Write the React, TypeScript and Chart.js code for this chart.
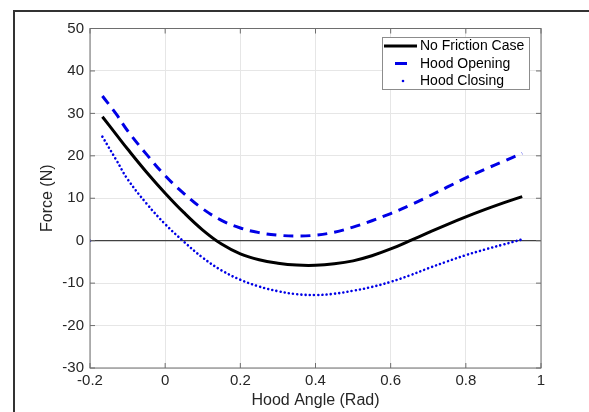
import { useEffect, useRef } from "react";
import { Chart, registerables } from "chart.js";

Chart.register(...registerables);

// ---- data ----
const hoodAngle = [
  -0.167, -0.13, -0.1, -0.05, 0, 0.05, 0.1, 0.15, 0.2, 0.25, 0.3, 0.35, 0.4,
  0.45, 0.5, 0.55, 0.6, 0.65, 0.7, 0.75, 0.8, 0.85, 0.9, 0.95,
];
const noFrictionForce = [
  29.2, 25.0, 21.6, 16.2, 11.2, 6.6, 2.5, -0.8, -3.1, -4.5, -5.3, -5.75, -5.8,
  -5.45, -4.75, -3.55, -1.95, -0.05, 1.9, 3.8, 5.6, 7.3, 8.9, 10.4,
];
const hoodOpeningForce = [
  34.1, 29.8, 25.9, 20.4, 15.3, 11.1, 7.5, 4.8, 3.0, 1.9, 1.3, 1.1, 1.3, 2.0,
  3.2, 4.7, 6.4, 8.3, 10.4, 12.6, 14.8, 16.8, 18.7, 20.6,
];
const hoodClosingForce = [
  24.5, 19.0, 14.5, 8.8, 3.9, -0.25, -4.0, -7.0, -9.2, -10.8, -11.9, -12.6,
  -12.8, -12.5, -11.8, -10.9, -9.7, -8.2, -6.5, -4.9, -3.4, -2.1, -0.9, 0.3,
];
const strayAngle = [-0.2];
const strayForce = [0];

const seriesLabels = ["No Friction Case", "Hood Opening", "Hood Closing"];
const xTickValues = [-0.2, 0, 0.2, 0.4, 0.6, 0.8, 1];
const yTickValues = [-30, -20, -10, 0, 10, 20, 30, 40, 50];
const xTitle = "Hood Angle (Rad)";
const yTitle = "Force (N)";

const FONT = "'Liberation Sans', Arial, Helvetica, sans-serif";
const BLUE = "#0000e6";

function toPoints(xs: number[], ys: number[]) {
  return xs.map((x, i) => ({ x, y: ys[i] }));
}

const framePlugin = {
  id: "framePlugin",
  beforeDraw(chart: any) {
    const ctx = chart.ctx;
    ctx.save();
    ctx.fillStyle = "#ffffff";
    ctx.fillRect(0, 0, chart.width, chart.height);
    ctx.strokeStyle = "#333333";
    ctx.lineWidth = 2;
    ctx.strokeRect(14, 11, chart.width + 20, chart.height + 20);
    ctx.restore();
  },
  afterDatasetsDraw(chart: any) {
    const ctx = chart.ctx;
    const { left, right, top, bottom } = chart.chartArea;
    const xs = chart.scales.x;
    const ys = chart.scales.y;
    ctx.save();
    ctx.strokeStyle = "#6e6e6e";
    ctx.lineWidth = 1;
    ctx.strokeRect(left, top, right - left, bottom - top);
    ctx.beginPath();
    const tl = 5;
    xs.ticks.forEach((t: any) => {
      const px = xs.getPixelForValue(t.value);
      ctx.moveTo(px, bottom);
      ctx.lineTo(px, bottom - tl);
      ctx.moveTo(px, top);
      ctx.lineTo(px, top + tl);
    });
    ys.ticks.forEach((t: any) => {
      const py = ys.getPixelForValue(t.value);
      ctx.moveTo(left, py);
      ctx.lineTo(left + tl, py);
      ctx.moveTo(right, py);
      ctx.lineTo(right - tl, py);
    });
    ctx.stroke();

    // legend
    const ds = chart.data.datasets;
    const bw = 147;
    const bh = 52;
    const bx = right - 12 - bw;
    const by = top + 8.5;
    ctx.fillStyle = "#ffffff";
    ctx.fillRect(bx, by, bw, bh);
    ctx.strokeStyle = "#8c8c8c";
    ctx.lineWidth = 1;
    ctx.strokeRect(bx + 0.5, by + 0.5, bw, bh);
    const rows = [by + 9, by + 26.5, by + 44];
    ctx.font = "14px " + FONT;
    ctx.textBaseline = "middle";
    ctx.textAlign = "left";
    ctx.fillStyle = "#000000";
    for (let i = 0; i < 3; i++) {
      const y = rows[i];
      const d = ds[i];
      ctx.save();
      ctx.strokeStyle = d.borderColor;
      ctx.lineWidth = d.borderWidth;
      ctx.beginPath();
      if (i === 0) {
        ctx.moveTo(bx + 2, y);
        ctx.lineTo(bx + 35, y);
        ctx.stroke();
      } else if (i === 1) {
        ctx.moveTo(bx + 13, y);
        ctx.lineTo(bx + 25, y);
        ctx.stroke();
      } else {
        ctx.fillStyle = d.borderColor;
        ctx.arc(bx + 21, y, 1.3, 0, Math.PI * 2);
        ctx.fill();
      }
      ctx.restore();
      ctx.fillText(d.label, bx + 38, y + 0.5);
    }
    ctx.restore();
  },
};

export default function App() {
  const ref = useRef<HTMLCanvasElement | null>(null);

  useEffect(() => {
    document.body.style.margin = "0";
    document.body.style.overflow = "hidden";
    if (!ref.current) return;
    const chart = new Chart(ref.current, {
      type: "line",
      data: {
        datasets: [
          {
            label: seriesLabels[0],
            data: toPoints(hoodAngle, noFrictionForce),
            borderColor: "#000000",
            borderWidth: 3,
            pointRadius: 0,
            tension: 0.4,
            fill: false,
          },
          {
            label: seriesLabels[1],
            data: toPoints(hoodAngle, hoodOpeningForce),
            borderColor: BLUE,
            borderWidth: 3,
            borderDash: [10, 7],
            borderCapStyle: "butt",
            pointRadius: 0,
            tension: 0.4,
            fill: false,
          },
          {
            label: seriesLabels[2],
            data: toPoints(hoodAngle, hoodClosingForce),
            borderColor: BLUE,
            borderWidth: 2.6,
            borderDash: [0.01, 4.2],
            borderCapStyle: "round",
            pointRadius: 0,
            tension: 0.4,
            fill: false,
          },
          {
            label: "",
            data: toPoints(strayAngle, strayForce),
            borderColor: BLUE,
            backgroundColor: BLUE,
            showLine: false,
            pointRadius: 1.3,
            pointBorderWidth: 0,
          },
        ],
      },
      options: {
        animation: false,
        responsive: false,
        devicePixelRatio: 1,
        layout: { padding: { left: 0, top: 28.5, right: 48, bottom: 0 } },
        plugins: {
          legend: { display: false },
          tooltip: { enabled: false },
        },
        scales: {
          x: {
            type: "linear",
            min: -0.2,
            max: 1,
            afterFit: (s: any) => {
              s.height = 44;
            },
            afterBuildTicks: (s: any) => {
              s.ticks = xTickValues.map((v) => ({ value: v }));
            },
            ticks: {
              callback: (v: any) => String(v),
              color: "#262626",
              font: { family: FONT, size: 15 },
              padding: 4,
              maxRotation: 0,
            },
            grid: {
              color: "#e6e6e6",
              lineWidth: 1,
              drawTicks: false,
            },
            border: { display: false },
            title: {
              display: true,
              text: xTitle,
              color: "#262626",
              font: { family: FONT, size: 16 },
              padding: { top: 0, bottom: 2 },
            },
          },
          y: {
            type: "linear",
            min: -30,
            max: 50,
            afterFit: (s: any) => {
              s.width = 90;
            },
            afterBuildTicks: (s: any) => {
              s.ticks = yTickValues.map((v) => ({ value: v }));
            },
            ticks: {
              callback: (v: any) => String(v),
              color: "#262626",
              font: { family: FONT, size: 15 },
              padding: 6,
            },
            grid: {
              color: (c: any) =>
                c.tick && c.tick.value === 0 ? "#404040" : "#e6e6e6",
              lineWidth: (c: any) => (c.tick && c.tick.value === 0 ? 1.3 : 1),
              drawTicks: false,
            },
            border: { display: false },
            title: {
              display: true,
              text: yTitle,
              color: "#262626",
              font: { family: FONT, size: 16 },
              padding: { top: 38, bottom: 0 },
            },
          },
        },
      },
      plugins: [framePlugin],
    } as any);
    return () => chart.destroy();
  }, []);

  return (
    <div style={{ width: 589, height: 412 }}>
      <canvas
        ref={ref}
        width={589}
        height={412}
        style={{ display: "block", width: 589, height: 412 }}
      />
    </div>
  );
}
